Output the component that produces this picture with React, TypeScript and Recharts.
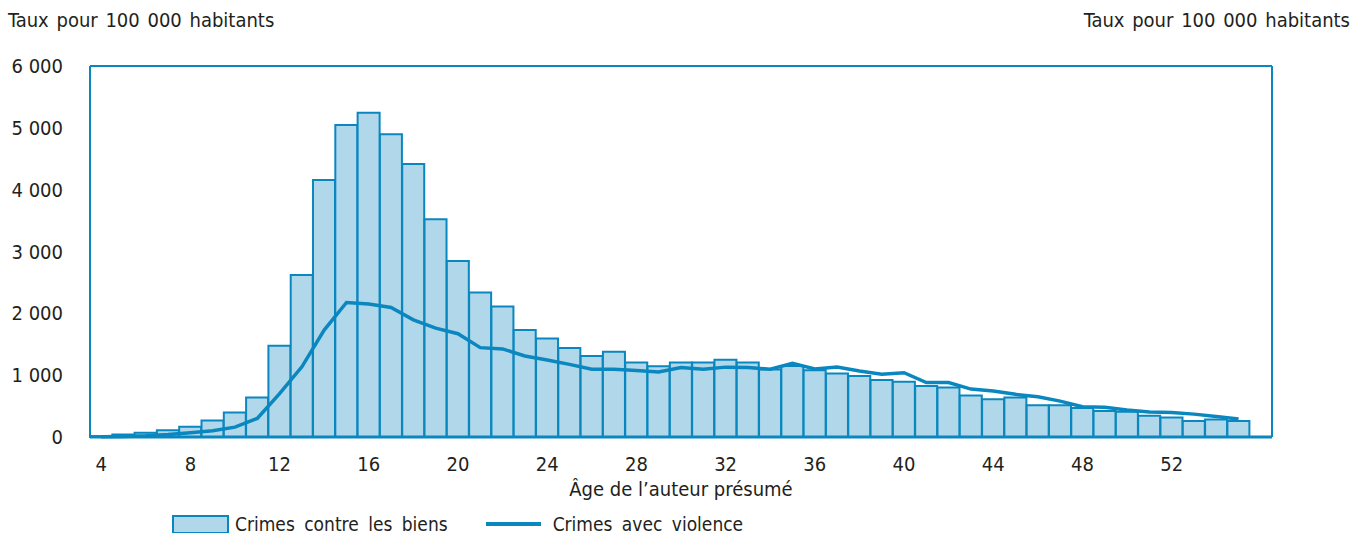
import React from 'react';
import { ComposedChart, Bar, Line, XAxis, YAxis, CartesianGrid, ReferenceLine } from 'recharts';

// Ages 4 to 56 (56 is an empty slot at the right edge of the plot)
const ages: number[] = [
  4, 5, 6, 7, 8, 9, 10, 11, 12, 13, 14, 15, 16, 17, 18, 19, 20, 21, 22, 23, 24, 25, 26, 27, 28, 29,
  30, 31, 32, 33, 34, 35, 36, 37, 38, 39, 40, 41, 42, 43, 44, 45, 46, 47, 48, 49, 50, 51, 52, 53,
  54, 55, 56,
];

// Crimes contre les biens (bars), rate per 100 000
const propertyRates: (number | null)[] = [
  15, 40, 70, 110, 165, 265, 395, 640, 1475, 2620, 4155, 5045, 5245, 4895, 4415, 3520, 2845, 2335,
  2110, 1730, 1595, 1440, 1310, 1380, 1205, 1145, 1205, 1205, 1250, 1205, 1090, 1150, 1080, 1025,
  985, 920, 895, 825, 800, 670, 610, 640, 515, 515, 470, 420, 410, 345, 315, 260, 285, 260, null,
];

// Crimes avec violence (line), rate per 100 000
const violentRates: (number | null)[] = [
  5, 10, 20, 40, 70, 100, 160, 300, 700, 1135, 1730, 2175, 2150, 2095, 1895, 1760, 1670, 1445, 1425,
  1310, 1245, 1175, 1095, 1095, 1075, 1050, 1125, 1095, 1130, 1125, 1095, 1190, 1100, 1130, 1068,
  1015, 1040, 880, 880, 775, 745, 690, 650, 580, 490, 480, 435, 405, 395, 370, 330, 290, null,
];

const xTicks = [4, 8, 12, 16, 20, 24, 28, 32, 36, 40, 44, 48, 52];
const yTicks = [0, 1000, 2000, 3000, 4000, 5000, 6000];

const data = ages.map((age, i) => ({
  age,
  biens: propertyRates[i],
  violence: violentRates[i],
}));

const BLUE = '#0a87bf';
const FILL = '#b0d8ea';
const GRID = '#8fcde8';
const TEXT = '#231f20';
const FONT = "'Liberation Sans Narrow', 'DejaVu Sans Condensed', 'Roboto', sans-serif";

const fmt = (v: number) => (v >= 1000 ? `${Math.floor(v / 1000)} 000` : `${v}`);

function RightTick(props: any) {
  const { x, y, payload } = props;
  return (
    <text x={x + 80} y={y} dy="0.35em" textAnchor="end" fill={TEXT} fontSize={20} fontFamily={FONT}>
      {fmt(payload.value)}
    </text>
  );
}

export default function App() {
  return (
    <div style={{ position: 'absolute', left: 0, top: 0, width: 1366, height: 533, fontFamily: FONT, color: TEXT }}>
      <div style={{ position: 'absolute', left: 8, top: 8, fontSize: 20, wordSpacing: 2 }}>
        Taux pour 100 000 habitants
      </div>
      <div style={{ position: 'absolute', right: 16, top: 8, fontSize: 20, wordSpacing: 2 }}>
        Taux pour 100 000 habitants
      </div>

      <ComposedChart
        width={1366}
        height={533}
        data={data}
        margin={{ top: 66, right: 0, bottom: 0, left: 0 }}
        barCategoryGap={0}
        barGap={0}
      >
        <CartesianGrid vertical={false} stroke={GRID} strokeWidth={1.5} />
        <XAxis
          dataKey="age"
          ticks={xTicks}
          interval={0}
          height={96}
          tickSize={0}
          tickMargin={20}
          tick={{ fill: TEXT, fontSize: 20, fontFamily: FONT }}
          axisLine={{ stroke: BLUE, strokeWidth: 3 }}
          label={{
            value: 'Âge de l\u2019auteur présumé',
            position: 'insideTop',
            offset: 45,
            fill: TEXT,
            fontSize: 20,
            fontFamily: FONT,
          }}
        />
        <YAxis
          yAxisId="left"
          orientation="left"
          width={90}
          domain={[0, 6000]}
          ticks={yTicks}
          interval={0}
          tickSize={0}
          tickMargin={27}
          tickFormatter={fmt}
          tick={{ fill: TEXT, fontSize: 20, fontFamily: FONT }}
          axisLine={{ stroke: BLUE, strokeWidth: 2 }}
        />
        <YAxis
          yAxisId="right"
          orientation="right"
          width={94}
          domain={[0, 6000]}
          ticks={yTicks}
          interval={0}
          tickSize={0}
          tickMargin={0}
          tick={<RightTick />}
          axisLine={{ stroke: BLUE, strokeWidth: 2 }}
        />
        <ReferenceLine yAxisId="left" y={6000} stroke={BLUE} strokeWidth={2} />
        <Bar
          yAxisId="left"
          dataKey="biens"
          fill={FILL}
          stroke={BLUE}
          strokeWidth={2}
          isAnimationActive={false}
        />
        <Line
          yAxisId="left"
          dataKey="violence"
          type="linear"
          stroke={BLUE}
          strokeWidth={3.5}
          dot={false}
          isAnimationActive={false}
        />
      </ComposedChart>

      {/* Legend */}
      <div style={{ position: 'absolute', left: 172, top: 513, display: 'flex', alignItems: 'center', fontSize: 19 }}>
        <span
          style={{
            display: 'inline-block',
            width: 53,
            height: 15,
            background: FILL,
            border: `2px solid ${BLUE}`,
            marginRight: 6,
          }}
        />
        <span style={{ wordSpacing: 4 }}>Crimes contre les biens</span>
        <span
          style={{
            display: 'inline-block',
            width: 55,
            height: 4,
            background: BLUE,
            marginLeft: 38,
            marginRight: 12,
          }}
        />
        <span style={{ wordSpacing: 4 }}>Crimes avec violence</span>
      </div>
    </div>
  );
}
